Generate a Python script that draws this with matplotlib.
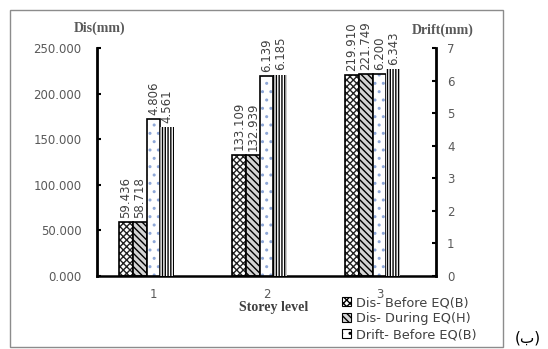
import numpy as np
import matplotlib
matplotlib.use("Agg")
import matplotlib.pyplot as plt
from matplotlib.patches import Rectangle, Patch

# data
storeys = ["1", "2", "3"]
dis_before = [59.436, 133.109, 219.910]
dis_during = [58.718, 132.939, 221.749]
drift_before = [4.806, 6.139, 6.200]
drift_during = [4.561, 6.185, 6.343]
dis_ticks = [0, 50, 100, 150, 200, 250]
drift_ticks = [0, 1, 2, 3, 4, 5, 6, 7]

plt.rcParams['font.family'] = ['DejaVu Sans']
plt.rcParams['hatch.linewidth'] = 1.0

fig = plt.figure(figsize=(5.48, 3.49), dpi=100)
W, H = 548, 349

# outer frame of the chart area
fig.patches.append(Rectangle((10 / W, 2 / H), 493 / W, 337 / H, transform=fig.transFigure,
                             fill=False, edgecolor='#8c8c8c', linewidth=1.0))

ax = fig.add_axes([97 / W, (H - 276) / H, 339 / W, 228 / H])
ax2 = ax.twinx()

x = np.arange(len(storeys))
w = 0.122
grey_txt = '#404040'

def labels(axis, xs, vals, fmt):
    for xi, v in zip(xs, vals):
        axis.annotate(fmt.format(v), (xi, v), xytext=(0, 3), textcoords='offset points',
                      rotation=90, ha='center', va='bottom', fontsize=8.5, color=grey_txt)

HB = 'xxxxx'
HD = '\\' * 5

# Dis before: dense cross pattern
xb = x - 2 * w
ax.bar(xb, dis_before, w, color='white', edgecolor='#222222', hatch=HB, linewidth=0)
ax.bar(xb, dis_before, w, fill=False, edgecolor='black', linewidth=1.2)
labels(ax, xb, dis_before, "{:.3f}")

# Dis during: grey with diagonals
xd = x - w
ax.bar(xd, dis_during, w, color='#d4d4d4', edgecolor='black', hatch=HD, linewidth=0)
ax.bar(xd, dis_during, w, fill=False, edgecolor='black', linewidth=1.2)
labels(ax, xd, dis_during, "{:.3f}")

# Drift before: white with blue dots
xf = x
ax2.bar(xf, drift_before, w, color='white', edgecolor='#8fa8d8', hatch='..', linewidth=0)
ax2.bar(xf, drift_before, w, fill=False, edgecolor='black', linewidth=1.2)
labels(ax2, xf, drift_before, "{:.3f}")

# Drift during: vertical black stripes
xg = x + w
ax2.bar(xg, drift_during, w, color='white', edgecolor='black', hatch='||||||', linewidth=0)
labels(ax2, xg, drift_during, "{:.3f}")

ax.set_xlim(-0.5, 2.5)
ax.set_ylim(0, 250)
ax2.set_ylim(0, 7)
ax.set_xticks(x)
ax.set_xticklabels(storeys)
ax.set_yticks(dis_ticks)
ax.set_yticklabels([f"{t:.3f}" for t in dis_ticks])
ax2.set_yticks(drift_ticks)

for a in (ax, ax2):
    for s in a.spines.values():
        s.set_visible(False)
ax.spines['left'].set_visible(True)
ax.spines['left'].set_linewidth(2)
ax.spines['bottom'].set_visible(True)
ax.spines['bottom'].set_linewidth(1.8)
ax2.spines['right'].set_visible(True)
ax2.spines['right'].set_linewidth(2)

ax.tick_params(axis='y', direction='in', length=3, width=1.5, labelsize=8.5, colors='black',
               labelcolor='#595959', pad=11)
ax2.tick_params(axis='y', direction='in', length=3, width=1.5, labelsize=8.5, colors='black',
                labelcolor='#595959', pad=8)
ax.tick_params(axis='x', length=0, labelsize=8.5, labelcolor='#595959', pad=9)

fig.text(100 / W, 1 - 28 / H, "Dis(mm)", family='Liberation Serif', weight='bold',
         fontsize=10, color='#595959', ha='center', va='center')
fig.text(443 / W, 1 - 30 / H, "Drift(mm)", family='Liberation Serif', weight='bold',
         fontsize=10, color='#595959', ha='center', va='center')
fig.text(274 / W, 1 - 307 / H, "Storey level", family='Liberation Serif', weight='bold',
         fontsize=10, color='#404040', ha='center', va='center')

handles = [Patch(facecolor='white', edgecolor='black', hatch=HB, linewidth=0.8),
           Patch(facecolor='#d4d4d4', edgecolor='black', hatch=HD, linewidth=0.8),
           Patch(facecolor='white', edgecolor='black', hatch='..', linewidth=0.8)]
names = ["Dis- Before EQ(B)", "Dis- During EQ(H)", "Drift- Before EQ(B)"]
leg = fig.legend(handles, names, loc='upper left', bbox_to_anchor=(342 / W, 1 - 296 / H),
                 frameon=False, fontsize=9.3, handlelength=0.7, handleheight=0.7,
                 handletextpad=0.4, labelspacing=0.25, borderpad=0, borderaxespad=0)
for t in leg.get_texts():
    t.set_color('#404040')

fig.text(528 / W, 1 - 338 / H, "(ب)", fontsize=11, ha='center', va='center', color='black')

fig.savefig("out.png", dpi=100)
